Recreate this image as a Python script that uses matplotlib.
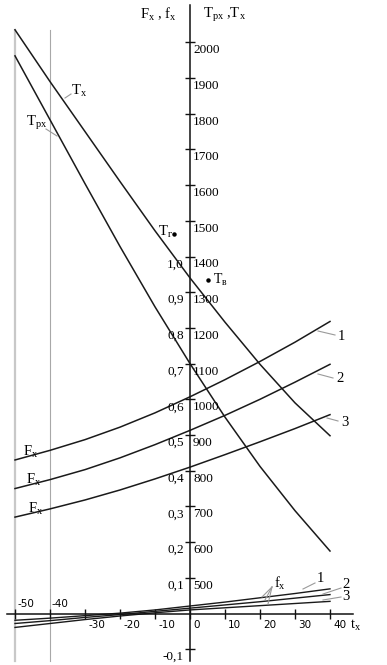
import matplotlib
matplotlib.use('Agg')
import matplotlib.pyplot as plt

plt.rcParams['mathtext.fontset'] = 'custom'
plt.rcParams['mathtext.rm'] = 'Liberation Serif'
plt.rcParams['mathtext.it'] = 'Liberation Serif:italic'
plt.rcParams['font.family'] = ['Liberation Serif', 'DejaVu Sans']

# ---------------- data ----------------
t_x = [-50, -40, -30, -20, -10, 0, 10, 20, 30, 40]

T_x = [2035, 1890, 1750, 1610, 1472, 1340, 1216, 1098, 990, 898]
T_px = [1962, 1783, 1604, 1428, 1259, 1100, 950, 812, 688, 575]

F1 = [0.430, 0.457, 0.487, 0.522, 0.562, 0.607, 0.655, 0.706, 0.760, 0.818]
F2 = [0.350, 0.375, 0.403, 0.436, 0.473, 0.513, 0.555, 0.600, 0.648, 0.698]
F3 = [0.270, 0.293, 0.318, 0.346, 0.377, 0.410, 0.445, 0.481, 0.518, 0.557]

f1 = [-0.019, -0.013, -0.006, 0.001, 0.010, 0.021, 0.032, 0.044, 0.056, 0.069]
f2 = [-0.028, -0.020, -0.011, -0.003, 0.006, 0.015, 0.024, 0.033, 0.043, 0.053]
f3 = [-0.039, -0.028, -0.017, -0.007, 0.002, 0.010, 0.016, 0.022, 0.028, 0.034]

# special points
T_r_point = (-4.6, 1463)
T_v_point = (5.1, 1334)

x_ticks = [-50, -40, -30, -20, -10, 0, 10, 20, 30, 40]
x_labels_below = ['-30', '-20', '-10', '0', '10', '20', '30', '40']
x_labels_above = ['-50', '-40']
F_ticks = [-0.1, 0.1, 0.2, 0.3, 0.4, 0.5, 0.6, 0.7, 0.8, 0.9, 1.0, 1.1, 1.2, 1.3, 1.4, 1.5, 1.6]
F_labels = ['-0,1', '0,1', '0,2', '0,3', '0,4', '0,5', '0,6', '0,7', '0,8', '0,9', '1,0']
F_label_vals = [-0.1, 0.1, 0.2, 0.3, 0.4, 0.5, 0.6, 0.7, 0.8, 0.9, 1.0]
T_label_vals = [500, 600, 700, 800, 900, 1000, 1100, 1200, 1300, 1400, 1500, 1600,
                1700, 1800, 1900, 2000]

# ---------------- figure ----------------
W, H = 387, 665
fig = plt.figure(figsize=(W / 100, H / 100), dpi=100)
ax = fig.add_axes([0, 0, 1, 1])
ax.patch.set_alpha(0)

X0PIX, Y0PIX, PX_T, PX_F = 190.0, 613.5, 3.5, 357.0
xlim = (-X0PIX / PX_T, (W - X0PIX) / PX_T)
ylim = (-(H - Y0PIX) / PX_F, Y0PIX / PX_F)
ax.set_xlim(*xlim)
ax.set_ylim(*ylim)

ax2 = ax.twinx()
ax2.set_ylim(400 + 1000 * ylim[0], 400 + 1000 * ylim[1])
ax2.axis('off')


def px(x, y):
    """pixel (from top-left) -> data coords of ax"""
    return ((x - X0PIX) / PX_T, (Y0PIX - y) / PX_F)


# spines as axes through origin
ax.spines['top'].set_visible(False)
ax.spines['right'].set_visible(False)
ax.spines['left'].set_position(('data', 0))
ax.spines['bottom'].set_position(('data', 0))
ax.spines['left'].set_bounds(-0.133, 1.704)
ax.spines['bottom'].set_bounds(-52.2, 46.6)
for s in ['left', 'bottom']:
    ax.spines[s].set_linewidth(1.1)
    ax.spines[s].set_color('#111111')
ax.set_xticks(x_ticks)
ax.set_yticks(F_ticks)
ax.tick_params(direction='inout', length=7, width=1.0, color='#111111',
               labelleft=False, labelbottom=False)

# grey vertical guide lines
ax.plot([-50, -50], [-0.133, px(0, 30)[1]], color='#c8c8c8', lw=1.6, zorder=1)
ax.plot([-40, -40], [-0.133, px(0, 30)[1]], color='#a8a8a8', lw=0.8, zorder=1)

# curves
lc = '#1a1a1a'
ax2.plot(t_x, T_x, color=lc, lw=1.1)
ax2.plot(t_x, T_px, color=lc, lw=1.1)
for F in (F1, F2, F3):
    ax.plot(t_x, F, color=lc, lw=1.1)
for f in (f1, f2, f3):
    ax.plot(t_x, f, color=lc, lw=1.0)

ax2.plot([T_r_point[0]], [T_r_point[1]], 'o', color='black', ms=2.2)
ax2.plot([T_v_point[0]], [T_v_point[1]], 'o', color='black', ms=2.2)

# tick labels
num_fs = 9.5
for v, s in zip(F_label_vals, F_labels):
    ax.annotate(s, xy=(0, v), xytext=(-6, -8), textcoords='offset pixels',
                ha='right', va='center', fontsize=num_fs, family='Liberation Serif')
for v in T_label_vals:
    ax2.annotate(str(v), xy=(0, v), xytext=(3, -8), textcoords='offset pixels',
                 ha='left', va='center', fontsize=num_fs, family='Liberation Serif')
for v, s in zip(x_ticks[2:], x_labels_below):
    ax.annotate(s, xy=(v, 0), xytext=(3, -11.5), textcoords='offset pixels',
                ha='left', va='center', fontsize=7.5, family='DejaVu Sans')
for v, s in zip(x_ticks[:2], x_labels_above):
    ax.annotate(s, xy=(v, 0), xytext=(2, 9.5), textcoords='offset pixels',
                ha='left', va='center', fontsize=7.5, family='DejaVu Sans')

tfs = 10.5
# axis titles
ax.text(*px(177, 14), r'$\mathrm{F_x}$ , $\mathrm{f_x}$', ha='right', va='center', fontsize=tfs)
ax.text(*px(203, 15), r'$\mathrm{T_{px}}$ ,$\mathrm{T_x}$', ha='left', va='center', fontsize=tfs)
ax.text(*px(350, 625), r'$\mathrm{t_x}$', ha='left', va='center', fontsize=tfs)

gc = '#9a9a9a'


def label(txt, tpos, lstart, lend, ha='left', fs=tfs):
    ax.text(*px(*tpos), txt, ha=ha, va='center', fontsize=fs)
    if lstart is not None:
        a, b = px(*lstart), px(*lend)
        ax.plot([a[0], b[0]], [a[1], b[1]], color=gc, lw=0.8)


label(r'$\mathrm{T_x}$', (71, 91), (65, 98), (71, 94))
label(r'$\mathrm{T_{px}}$', (26, 123), (46, 129), (57, 136))
label(r'$\mathrm{T_г}$', (158, 232), None, None)
label(r'$\mathrm{T_в}$', (213, 280), None, None, fs=10)
label(r'$\mathrm{F_x}$', (23, 452), None, None)
label(r'$\mathrm{F_x}$', (26, 480), None, None)
label(r'$\mathrm{F_x}$', (28, 509), None, None)
label('1', (338, 336), (318, 331), (335, 335))
label('2', (336, 379), (318, 374), (333, 378))
label('3', (341, 423), (327, 418), (338, 421))
label(r'$\mathrm{f_x}$', (274, 583), None, None)
for end in [(262, 597), (265, 600), (268, 604)]:
    a, b = px(272, 587), px(*end)
    ax.plot([a[0], b[0]], [a[1], b[1]], color=gc, lw=0.8)
label('1', (317, 579), (303, 589), (315, 583))
label('2', (342, 585), (323, 594), (341, 588))
label('3', (342, 597), (323, 600), (341, 597))

fig.savefig('out.png', dpi=100)
